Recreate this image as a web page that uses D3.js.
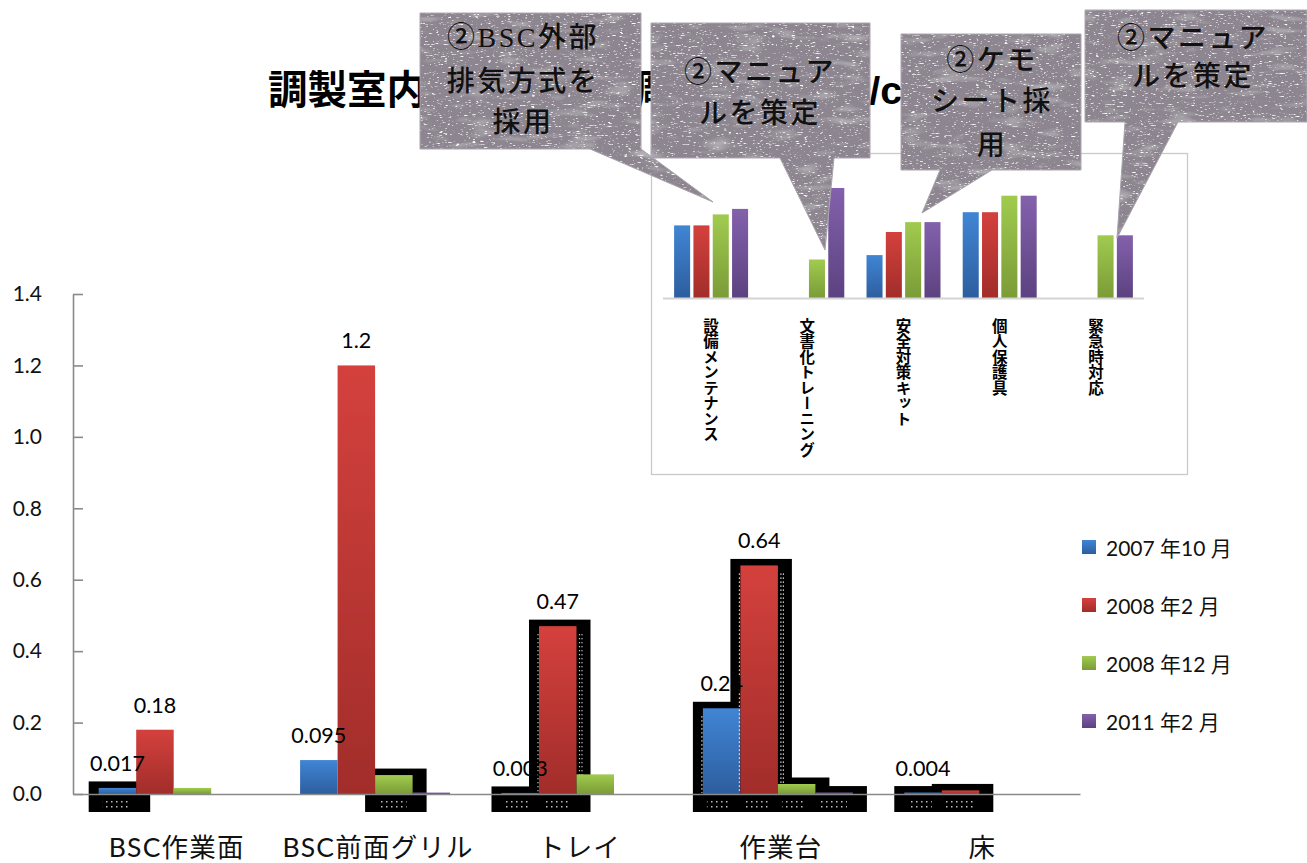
<!DOCTYPE html>
<html>
<head>
<meta charset="utf-8">
<script src="https://d3js.org/d3.v7.min.js"></script>
<style>
  html, body { margin: 0; padding: 0; background: #ffffff; }
  svg { display: block; }
</style>
</head>
<body>
<div id="chart"></div>
<script>
// ---- data -------------------------------------------------------------
const categories = ["BSC作業面", "BSC前面グリル", "トレイ", "作業台", "床"];
const seriesNames = ["2007 年10 月", "2008 年2 月", "2008 年12 月", "2011 年2 月"];
const valuesOct2007 = [0.017, 0.095, 0.003, 0.24, 0.004];
const valuesFeb2008 = [0.18, 1.2, 0.47, 0.64, 0.01];
const valuesDec2008 = [0.017, 0.053, 0.055, 0.028, 0];
const valuesFeb2011 = [0, 0.004, 0, 0.004, 0];
const yTicks = [0, 0.2, 0.4, 0.6, 0.8, 1.0, 1.2, 1.4];
// which bars carry a value label (per series, per category)
const labelOct2007 = [true, true, true, true, true];
const labelFeb2008 = [true, true, true, true, false];
// bars drawn with the dark frame effect: [category index, series index]
const framedBars = [[0, 0], [1, 2], [2, 0], [2, 1], [3, 0], [3, 1], [3, 2], [3, 3], [4, 0], [4, 1]];

// inset: safety-measure scores
const insetCategories = ["設備メンテナンス", "文書化トレーニング", "安全対策キット", "個人保護具", "緊急時対応"];
const insetOct2007 = [66, 0, 39, 78, 0];
const insetFeb2008 = [66, 0, 60, 78, 0];
const insetDec2008 = [76, 35, 69, 93, 57];
const insetFeb2011 = [81, 100, 69, 93, 57];

// callout texts
const calloutLines = [
  ["②BSC外部", "排気方式を", "採用"],
  ["②マニュア", "ルを策定"],
  ["②ケモ", "シート採", "用"],
  ["②マニュア", "ルを策定"]
];
const titleText = "調製室内の拭き取り調査結果（ng/cm²）";

// ---- layout -----------------------------------------------------------
const W = 1307, H = 863;
const mainSeries = [valuesOct2007, valuesFeb2008, valuesDec2008, valuesFeb2011];
const mainLabels = [labelOct2007, labelFeb2008, null, null];
const insetSeries = [insetOct2007, insetFeb2008, insetDec2008, insetFeb2011];
const seriesColors = [
  ["#4085d4", "#2d5e9e"],
  ["#d4413d", "#a12d2a"],
  ["#a0cb4f", "#7b9b37"],
  ["#8361ac", "#5c4280"]
];
const LATIN = "Lato, 'Noto Sans CJK JP', sans-serif";
const CJK = "'Noto Sans CJK JP', sans-serif";

// callout geometry: box [x, y, w, h], tail triangle, text centre and line positions
const calloutLayout = [
  { box: [420, 13, 221, 136], tail: [[590, 149], [641, 149], [713, 202]], cx: 523, ys: [37, 81, 122] },
  { box: [651, 23, 219, 135], tail: [[780, 158], [834, 158], [825, 250]], cx: 760, ys: [72, 113] },
  { box: [901, 34, 180, 136], tail: [[940, 170], [992, 170], [922, 213]], cx: 992, ys: [60, 101, 145] },
  { box: [1085, 10, 222, 112], tail: [[1125, 122], [1178, 122], [1117, 238]], cx: 1193, ys: [38, 76] }
];

const svg = d3.select("#chart").append("svg").attr("width", W).attr("height", H);
const defs = svg.append("defs");

seriesColors.forEach((c, i) => {
  const g = defs.append("linearGradient").attr("id", "grad" + i)
    .attr("x1", 0).attr("y1", 0).attr("x2", 0).attr("y2", 1);
  g.append("stop").attr("offset", "0%").attr("stop-color", c[0]);
  g.append("stop").attr("offset", "100%").attr("stop-color", c[1]);
});

const dotPat = defs.append("pattern").attr("id", "dots")
  .attr("patternUnits", "userSpaceOnUse").attr("width", 5).attr("height", 5);
dotPat.append("rect").attr("x", 1).attr("y", 1).attr("width", 1.5).attr("height", 1.5).attr("fill", "#ffffff");

// speckled paper texture for the callouts
const grain = defs.append("filter").attr("id", "grain")
  .attr("filterUnits", "userSpaceOnUse").attr("x", 0).attr("y", 0).attr("width", W).attr("height", H);
grain.append("feTurbulence").attr("type", "fractalNoise").attr("baseFrequency", "0.25 1.1")
  .attr("numOctaves", 2).attr("seed", 11).attr("result", "noise");
grain.append("feColorMatrix").attr("in", "noise").attr("type", "matrix")
  .attr("values", "0 0 0 0 1  0 0 0 0 1  0 0 0 0 1  5 0 0 0 -3.15").attr("result", "speck");
grain.append("feComposite").attr("in", "speck").attr("in2", "SourceGraphic").attr("operator", "in").attr("result", "speckIn");
grain.append("feTurbulence").attr("type", "fractalNoise").attr("baseFrequency", "0.03 0.12")
  .attr("numOctaves", 2).attr("seed", 4).attr("result", "mottle");
grain.append("feColorMatrix").attr("in", "mottle").attr("type", "matrix")
  .attr("values", "0 0 0 0 1  0 0 0 0 1  0 0 0 0 1  0.7 0 0 0 -0.38").attr("result", "mot");
grain.append("feComposite").attr("in", "mot").attr("in2", "SourceGraphic").attr("operator", "in").attr("result", "motIn");
const gm = grain.append("feMerge");
gm.append("feMergeNode").attr("in", "SourceGraphic");
gm.append("feMergeNode").attr("in", "motIn");
gm.append("feMergeNode").attr("in", "speckIn");

// ---- main chart -------------------------------------------------------
const x0 = d3.scaleBand().domain(categories).range([73, 1080]).paddingInner(0).paddingOuter(0);
const x1 = d3.scaleBand().domain(d3.range(seriesNames.length))
  .range([0, x0.bandwidth()]).paddingInner(0).paddingOuter(0.685);
const y = d3.scaleLinear().domain([0, 1.4]).range([794, 294]);
const y0 = y(0);
const bw = x1.bandwidth();
const barX = (ci, si) => x0(categories[ci]) + x1(si);

// dark frames behind selected bars
const frameG = svg.append("g");
framedBars.forEach(([ci, si]) => {
  const v = mainSeries[si][ci];
  const bx = barX(ci, si);
  const top = y(v) - 6.5;
  frameG.append("rect")
    .attr("x", bx - 10).attr("y", top)
    .attr("width", bw + 24).attr("height", y0 + 18 - top)
    .attr("fill", "#000");
  frameG.append("rect")
    .attr("x", bx + 4).attr("y", y0 + 4)
    .attr("width", bw - 10).attr("height", 11)
    .attr("fill", "url(#dots)").attr("opacity", 0.75);
});

// bars, series by series
const barG = svg.append("g");
mainSeries.forEach((vals, si) => {
  barG.selectAll(null).data(vals).enter().append("rect")
    .attr("x", (d, ci) => barX(ci, si))
    .attr("y", d => y(d))
    .attr("width", bw)
    .attr("height", d => y0 - y(d))
    .attr("fill", "url(#grad" + si + ")");
  framedBars.filter(f => f[1] === si).forEach(([ci]) => {
    const v = vals[ci];
    const bx = barX(ci, si);
    if (y0 - y(v) < 40) return;
    [bx - 1, bx + bw + 3, bx + bw + 5.5].forEach(lx => {
      barG.append("line")
        .attr("x1", lx).attr("x2", lx)
        .attr("y1", y(v) + 8).attr("y2", y0 - 1)
        .attr("stroke", "#ffffff").attr("stroke-width", 1.2)
        .attr("stroke-dasharray", "1.2,2.8");
    });
  });
});

// value labels on top (black text disappears where it crosses a frame)
const labelG = svg.append("g").attr("font-family", LATIN).attr("font-size", 21.5).attr("fill", "#000");
mainSeries.forEach((vals, si) => {
  if (!mainLabels[si]) return;
  vals.forEach((v, ci) => {
    if (!mainLabels[si][ci]) return;
    labelG.append("text")
      .attr("x", barX(ci, si) + bw / 2)
      .attr("y", y(v) - 17)
      .attr("text-anchor", "middle")
      .text(String(v));
  });
});

// axes
const yAxis = d3.axisLeft(y).tickValues(yTicks).tickFormat(d3.format(".1f"))
  .tickSizeInner(-10).tickSizeOuter(0).tickPadding(31);
const yg = svg.append("g").attr("transform", "translate(73,0)").call(yAxis);
yg.select(".domain").attr("stroke", "#8a8a8a").attr("stroke-width", 1.6);
yg.selectAll(".tick line").attr("stroke", "#8a8a8a").attr("stroke-width", 1.6);
yg.selectAll(".tick text").attr("font-family", LATIN).attr("font-size", 21).attr("fill", "#111");

const xAxis = d3.axisBottom(x0).tickSize(0).tickSizeOuter(0).tickPadding(44);
const xg = svg.append("g").attr("transform", `translate(0,${y0})`).call(xAxis);
xg.select(".domain").attr("stroke", "#8a8a8a").attr("stroke-width", 1.6);
xg.selectAll(".tick text").attr("font-family", LATIN).attr("font-size", 26.5)
  .attr("letter-spacing", 1.2).attr("dx", 3).attr("fill", "#111");

// legend
const legend = svg.append("g").attr("font-family", LATIN).attr("font-size", 21).attr("fill", "#111");
seriesNames.forEach((name, i) => {
  const cy = 547 + i * 58;
  legend.append("rect").attr("x", 1082).attr("y", cy - 7).attr("width", 14).attr("height", 14)
    .attr("fill", "url(#grad" + i + ")");
  legend.append("text").attr("x", 1106).attr("y", cy).attr("dominant-baseline", "central").text(name);
});

// ---- title --------------------------------------------------------------
svg.append("text")
  .attr("x", 268).attr("y", 104)
  .attr("font-family", "'Liberation Sans', 'Noto Sans CJK JP', sans-serif")
  .attr("font-weight", 700).attr("font-size", 39.5).attr("fill", "#000")
  .text(titleText);

// ---- inset chart ------------------------------------------------------------
svg.append("rect").attr("x", 651.5).attr("y", 153.5).attr("width", 536).attr("height", 321)
  .attr("fill", "#ffffff").attr("stroke", "#c9c9c9").attr("stroke-width", 1.3);

const xi = d3.scaleBand().domain(insetCategories).range([663, 1144]).padding(0);
const xi1 = d3.scaleBand().domain(d3.range(seriesNames.length))
  .range([0, xi.bandwidth()]).paddingInner(0.17).paddingOuter(0.575);
const yi = d3.scaleLinear().domain([0, 100]).range([298, 188]);

const insetG = svg.append("g");
insetSeries.forEach((vals, si) => {
  insetG.selectAll(null).data(vals).enter().append("rect")
    .attr("x", (d, ci) => xi(insetCategories[ci]) + xi1(si))
    .attr("y", d => yi(d))
    .attr("width", xi1.bandwidth())
    .attr("height", d => yi(0) - yi(d))
    .attr("fill", "url(#grad" + si + ")");
});
insetG.append("line").attr("x1", 663).attr("x2", 1144).attr("y1", 298.5).attr("y2", 298.5)
  .attr("stroke", "#d4d4d4").attr("stroke-width", 2);
insetG.selectAll(null).data(insetCategories).enter().append("text")
  .attr("x", d => xi(d) + xi.bandwidth() / 2)
  .attr("y", 318)
  .attr("font-family", CJK).attr("font-weight", 700).attr("font-size", 15.5)
  .attr("fill", "#000")
  .style("writing-mode", "vertical-rl")
  .text(d => d);

// ---- callouts -------------------------------------------------------------------
const calloutG = svg.append("g");
calloutLayout.forEach((c, i) => {
  const [bx, by, bw2, bh] = c.box;
  const t = c.tail;
  const path = `M${bx},${by}H${bx + bw2}V${by + bh}H${t[1][0]}L${t[2][0]},${t[2][1]}L${t[0][0]},${t[0][1]}H${bx}Z`;
  const g = calloutG.append("g");
  g.append("path").attr("d", path).attr("fill", "#8d8690").attr("filter", "url(#grain)");
  g.append("path").attr("d", path).attr("fill", "none").attr("stroke", "#aca4af").attr("stroke-width", 1);
  calloutLines[i].forEach((line, li) => {
    g.append("text")
      .attr("x", c.cx).attr("y", c.ys[li])
      .attr("text-anchor", "middle").attr("dominant-baseline", "central")
      .attr("font-family", "'Liberation Serif', 'Noto Sans CJK JP', serif")
      .attr("font-weight", 500).attr("font-size", 28).attr("letter-spacing", 2.5)
      .attr("fill", "#111")
      .text(line);
  });
});
</script>
</body>
</html>
